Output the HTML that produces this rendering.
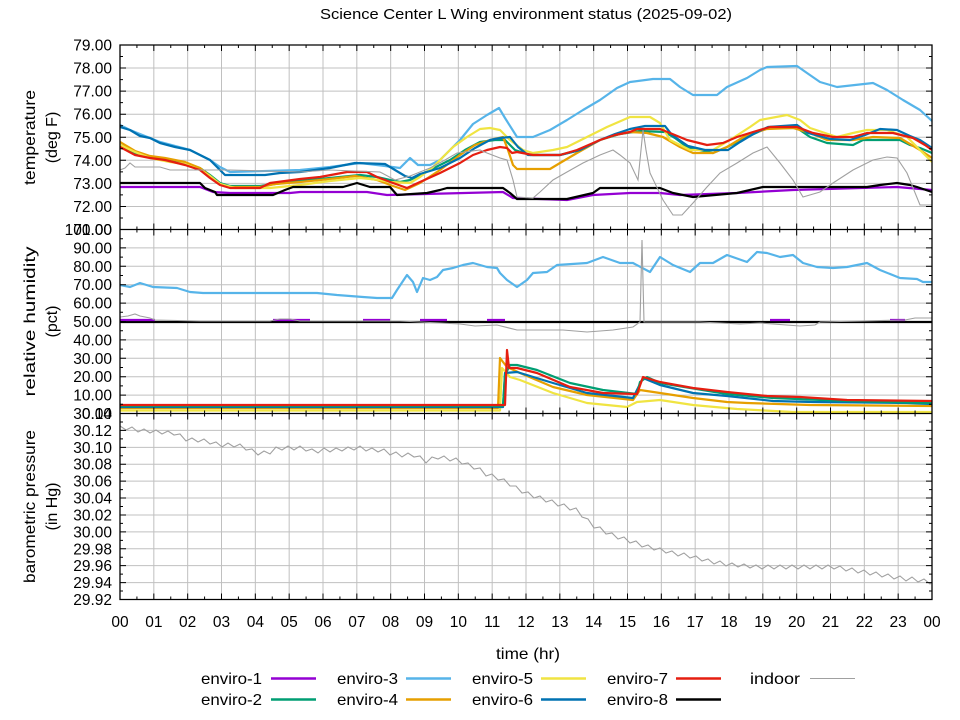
<!DOCTYPE html>
<html><head><meta charset="utf-8"><style>
html,body{margin:0;padding:0;background:#fff;}
svg{display:block;}
text{font-family:"Liberation Sans",sans-serif;fill:#000;}
.yl{font-size:15.5px;text-anchor:end;}
.xl{font-size:15.5px;text-anchor:middle;}
.s{fill:none;stroke-width:2.2;stroke-linejoin:round;}
</style></head><body>
<svg width="960" height="720" viewBox="0 0 960 720" xmlns="http://www.w3.org/2000/svg">
<rect width="960" height="720" fill="#fff"/>
<defs>
<clipPath id="c1"><rect x="120" y="45" width="812" height="184.5"/></clipPath>
<clipPath id="c2"><rect x="120" y="229.5" width="812" height="184"/></clipPath>
<clipPath id="c3"><rect x="120" y="413.5" width="812" height="186"/></clipPath>
<g id="xt"><path fill="none" stroke="#000" stroke-width="1" d="M120 0v6M136.92 0v3M153.83 0v6M170.75 0v3M187.67 0v6M204.58 0v3M221.5 0v6M238.42 0v3M255.33 0v6M272.25 0v3M289.17 0v6M306.08 0v3M323 0v6M339.92 0v3M356.83 0v6M373.75 0v3M390.67 0v6M407.58 0v3M424.5 0v6M441.42 0v3M458.33 0v6M475.25 0v3M492.17 0v6M509.08 0v3M526 0v6M542.92 0v3M559.83 0v6M576.75 0v3M593.67 0v6M610.58 0v3M627.5 0v6M644.42 0v3M661.33 0v6M678.25 0v3M695.17 0v6M712.08 0v3M729 0v6M745.92 0v3M762.83 0v6M779.75 0v3M796.67 0v6M813.58 0v3M830.5 0v6M847.42 0v3M864.33 0v6M881.25 0v3M898.17 0v6M915.08 0v3M932 0v6"/></g>
<g id="yt"><path fill="none" stroke="#000" stroke-width="1" d="M120 45h6M120 56.53h3M120 68.06h6M120 79.59h3M120 91.13h6M120 102.66h3M120 114.19h6M120 125.72h3M120 137.25h6M120 148.78h3M120 160.31h6M120 171.84h3M120 183.38h6M120 194.91h3M120 206.44h6M120 217.97h3M120 229.5h6M120 238.7h3M120 247.9h6M120 257.1h3M120 266.3h6M120 275.5h3M120 284.7h6M120 293.9h3M120 303.1h6M120 312.3h3M120 321.5h6M120 330.7h3M120 339.9h6M120 349.1h3M120 358.3h6M120 367.5h3M120 376.7h6M120 385.9h3M120 395.1h6M120 404.3h3M120 413.5h6M120 421.95h3M120 430.41h6M120 438.86h3M120 447.32h6M120 455.77h3M120 464.23h6M120 472.68h3M120 481.14h6M120 489.59h3M120 498.05h6M120 506.5h3M120 514.95h6M120 523.41h3M120 531.86h6M120 540.32h3M120 548.77h6M120 557.23h3M120 565.68h6M120 574.14h3M120 582.59h6M120 591.05h3M120 599.5h6"/></g>
</defs>

<!-- grid -->
<path fill="none" stroke="#c0c0c0" stroke-width="1" d="M153.83 45V599.5M187.67 45V599.5M221.5 45V599.5M255.33 45V599.5M289.17 45V599.5M323 45V599.5M356.83 45V599.5M390.67 45V599.5M424.5 45V599.5M458.33 45V599.5M492.17 45V599.5M526 45V599.5M559.83 45V599.5M593.67 45V599.5M627.5 45V599.5M661.33 45V599.5M695.17 45V599.5M729 45V599.5M762.83 45V599.5M796.67 45V599.5M830.5 45V599.5M864.33 45V599.5M898.17 45V599.5
M120 68.06H932M120 91.13H932M120 114.19H932M120 137.25H932M120 160.31H932M120 183.38H932M120 206.44H932
M120 247.9H932M120 266.3H932M120 284.7H932M120 303.1H932M120 321.5H932M120 339.9H932M120 358.3H932M120 376.7H932M120 395.1H932
M120 430.41H932M120 447.32H932M120 464.23H932M120 481.14H932M120 498.05H932M120 514.95H932M120 531.86H932M120 548.77H932M120 565.68H932M120 582.59H932"/>

<!-- top panel: temperature -->
<g clip-path="url(#c1)">
<polyline class="s" stroke="#9400d3" points="120,187 200,187 213,192 230,193 290,193 300,192 367,192 387,195 503,192 513,198 567,200 593,195 630,193 660,193 680,195 737,193 793,190 897,187 932,190"/>
<polyline class="s" stroke="#009e73" points="120,145 135,153 150,157 165,160 185,163 200,168 210,175 220,183 230,186 260,186 275,184 300,181 330,178 360,175 377,177 390,180 400,182 410,180 430,170 450,160 465,150 480,142 495,140 505,140 515,150 530,155 560,155 580,150 600,140 620,134 640,131 665,132 675,138 687,147 713,153 727,147 747,137 767,128 797,128 810,137 827,143 853,145 863,140 900,140 910,145 920,148 932,153"/>
<polyline class="s" stroke="#56b4e9" points="120,125 130,130 140,134 150,138 160,142 175,146 190,150 200,155 210,160 220,167 230,172 300,170 330,167 360,163 385,166 400,168 410,158 418,165 430,165 440,160 450,150 460,140 473,124 487,115 499,108 505,118 517,137 533,137 550,130 567,120 583,110 600,100 617,88 630,82 653,79 670,79 680,87 693,95 717,95 727,87 747,78 760,70 767,67 797,66 807,73 820,82 837,87 873,83 887,90 903,100 920,110 932,121"/>
<polyline class="s" stroke="#e69f00" points="120,142 135,151 150,156 165,158 185,162 200,168 210,176 220,184 230,187 260,187 275,184 300,182 330,179 355,176 377,180 393,186 405,190 420,183 440,170 460,155 475,145 490,140 503,137 508,150 513,165 517,169 550,169 560,163 577,153 600,140 615,135 630,132 647,133 663,137 680,147 693,153 713,153 727,147 747,135 767,129 793,128 810,133 827,140 853,140 873,137 900,138 920,150 932,158"/>
<polyline class="s" stroke="#f0e442" points="120,145 135,152 150,158 170,162 185,164 200,170 210,176 220,184 235,188 270,188 300,185 330,181 360,178 380,180 390,182 410,183 420,177 433,167 453,147 467,137 480,129 490,128 500,130 510,140 523,150 533,153 553,150 567,147 587,137 607,127 630,117 650,117 660,123 670,140 690,150 713,150 733,138 750,127 760,120 787,115 800,120 810,128 837,137 853,133 867,130 887,130 907,137 920,150 932,162"/>
<polyline class="s" stroke="#0072b2" points="120,127 130,130 140,136 150,138 160,143 175,147 190,150 200,155 210,160 220,170 225,175 265,175 280,173 300,172 330,168 355,163 385,164 395,170 405,176 412,178 420,174 440,168 460,158 475,148 490,140 500,138 510,137 518,147 528,155 560,155 580,150 600,140 615,134 630,129 645,126 665,126 672,135 688,146 705,150 728,150 740,142 755,133 768,127 797,125 808,133 830,139 850,140 865,135 880,129 897,130 910,136 920,140 932,148"/>
<polyline class="s" stroke="#e51e10" points="120,147 135,155 150,158 165,160 185,165 200,170 210,178 220,185 230,188 260,188 270,183 300,179 320,177 347,172 367,172 377,177 393,183 407,188 420,182 440,173 460,163 473,155 487,150 500,147 507,148 512,153 517,152 533,155 560,155 577,150 600,140 615,135 630,132 637,129 660,129 670,133 687,140 707,145 723,143 737,137 753,132 770,127 797,127 813,133 833,137 853,137 867,133 893,133 913,138 925,145 932,150"/>
<polyline class="s" stroke="#000" points="120,183 200,183 205,188 215,192 217,195 273,195 285,190 293,187 343,187 357,183 370,187 390,187 397,195 427,193 440,190 447,188 503,188 510,193 517,199 567,199 593,193 600,188 660,188 673,193 693,197 737,193 763,187 867,187 880,185 897,183 910,185 917,187 932,192"/>
<polyline fill="none" stroke="#a0a0a0" stroke-width="1.1" points="120,170 125,168 130,163 135,167 160,167 170,170 230,170 300,172 330,170 380,172 395,180 410,176 430,168 445,160 457,153 480,150 487,153 500,158 507,160 513,180 517,197 533,198 540,192 553,180 567,172 583,163 600,155 613,150 620,155 630,163 638,180 641,150 643,130 646,150 650,173 663,200 673,215 682,215 693,203 707,187 720,173 737,163 753,153 767,147 780,163 793,180 803,197 820,192 833,183 853,170 873,160 887,157 897,158 907,173 920,205 932,205"/>
</g>

<!-- middle panel: humidity -->
<g clip-path="url(#c2)">
<polyline class="s" stroke="#000" points="120,322 932,322"/>
<path class="s" stroke="#9400d3" d="M120 320H155M273 320H310M363 320H390M420 320H447M487 320H505M770 320H790M890 320H905"/>
<polyline class="s" stroke="#56b4e9" points="120,285 130,287 140,283 153,287 177,288 190,292 203,293 317,293 337,295 363,297 377,298 392,298 397,290 407,275 413,282 417,292 423,278 430,280 437,277 443,270 453,268 463,265 473,263 487,267 497,268 500,273 507,280 517,287 527,280 533,273 547,272 557,265 587,263 603,257 620,263 633,263 650,272 660,257 673,265 690,272 700,263 713,263 727,255 747,262 757,252 767,253 780,257 793,255 803,263 817,267 833,268 847,267 867,263 880,270 900,278 917,279 923,282 932,282"/>
<polyline class="s" stroke="#f0e442" points="120,410.5 500,410.5 502,368 510,377 520,380 553,393 587,403 627,407 637,402 660,400 693,405 737,409 793,412 932,412"/>
<polyline class="s" stroke="#e69f00" points="120,408 498,408 500,358 503,362 507,367 520,373 553,387 587,395 633,400 640,390 660,393 693,398 727,402 747,403 810,405 932,406"/>
<polyline class="s" stroke="#0072b2" points="120,407 503,407 505,373 517,372 553,383 587,393 633,398 643,378 660,385 693,393 727,396 773,401 813,402 907,403 932,404"/>
<polyline class="s" stroke="#009e73" points="120,406 503,406 505,375 510,365 517,365 537,370 570,383 603,390 637,394 640,382 647,377 660,383 727,394 773,398 847,401 932,403"/>
<polyline class="s" stroke="#e51e10" points="120,405 505,405 507,350 509,368 517,368 537,373 570,387 603,393 637,394 643,377 660,382 693,388 727,392 767,396 800,397 847,400 932,401"/>
<polyline fill="none" stroke="#a0a0a0" stroke-width="1.1" points="120,317 128,316 135,314 140,316 150,318 155,320 200,321 270,321 280,319 290,319 300,321 400,321 420,322 440,323 460,324 475,326 497,325 517,330 563,330 587,332 613,330 633,327 640,322 642,240 644,322 660,322 700,322 740,324 760,323 800,326 815,325 820,322 905,320 915,318 932,318"/>
</g>

<!-- bottom panel: pressure -->
<g clip-path="url(#c3)">
<polyline fill="none" stroke="#a0a0a0" stroke-width="1.1" points="120,426 126,430 132,427 138,432 144,429 150,433 156,430 162,434 168,431 174,435 180,434 186,441 192,438 198,442 204,439 210,444 216,442 222,447 228,443 234,447 240,444 246,450 252,449 258,455 264,451 270,454 276,447 282,450 288,446 294,450 300,446 306,451 312,449 318,453 324,448 330,452 336,448 342,451 348,447 354,450 360,446 366,451 372,448 378,452 384,449 390,455 396,452 402,457 408,453 414,457 420,456 426,463 432,457 438,459 444,456 450,461 456,458 462,464 468,463 474,469 480,468 486,476 492,474 498,480 504,479 510,486 516,486 522,493 528,492 534,498 540,496 546,502 552,500 558,506 564,504 570,510 576,508 582,517 588,519 594,528 600,527 606,534 612,533 618,539 624,537 630,543 636,541 642,547 648,545 654,550 660,548 666,553 672,551 678,556 684,553 690,558 696,556 702,561 708,559 714,564 720,561 726,566 732,563 738,567 744,564 750,568 756,565 762,569 768,565 774,569 780,565 786,569 792,565 798,569 804,565 810,569 816,565 822,569 828,565 834,569 840,566 846,571 852,568 858,573 864,570 870,575 876,572 882,577 888,574 894,579 900,576 906,581 912,577 918,582 924,579 930,584 932,582"/>
</g>

<!-- ticks -->
<use href="#xt" transform="translate(0,45)"/>
<use href="#xt" transform="translate(0,229.5) scale(1,-1)"/>
<use href="#xt" transform="translate(0,229.5)"/>
<use href="#xt" transform="translate(0,413.5) scale(1,-1)"/>
<use href="#xt" transform="translate(0,413.5)"/>
<use href="#xt" transform="translate(0,599.5) scale(1,-1)"/>
<use href="#yt"/>
<use href="#yt" transform="translate(1052,0) scale(-1,1)"/>

<!-- frames -->
<path fill="none" stroke="#000" stroke-width="1.3" d="M120 45H932V599.5H120ZM120 229.5H932M120 413.5H932"/>

<!-- title -->
<text x="526" y="19" font-size="15" text-anchor="middle" textLength="412" lengthAdjust="spacingAndGlyphs">Science Center L Wing environment status (2025-09-02)</text>

<!-- y labels -->
<text class="yl" x="112" y="50.5">79.00</text>
<text class="yl" x="112" y="73.6">78.00</text>
<text class="yl" x="112" y="96.6">77.00</text>
<text class="yl" x="112" y="119.7">76.00</text>
<text class="yl" x="112" y="142.8">75.00</text>
<text class="yl" x="112" y="165.8">74.00</text>
<text class="yl" x="112" y="188.9">73.00</text>
<text class="yl" x="112" y="211.9">72.00</text>
<text class="yl" x="112" y="235">71.00</text>
<text class="yl" x="112" y="235">100.00</text>
<text class="yl" x="112" y="253.4">90.00</text>
<text class="yl" x="112" y="271.8">80.00</text>
<text class="yl" x="112" y="290.2">70.00</text>
<text class="yl" x="112" y="308.6">60.00</text>
<text class="yl" x="112" y="327">50.00</text>
<text class="yl" x="112" y="345.4">40.00</text>
<text class="yl" x="112" y="363.8">30.00</text>
<text class="yl" x="112" y="382.2">20.00</text>
<text class="yl" x="112" y="400.6">10.00</text>
<text class="yl" x="112" y="419">0.00</text>
<text class="yl" x="112" y="419">30.14</text>
<text class="yl" x="112" y="435.9">30.12</text>
<text class="yl" x="112" y="452.8">30.10</text>
<text class="yl" x="112" y="469.7">30.08</text>
<text class="yl" x="112" y="486.6">30.06</text>
<text class="yl" x="112" y="503.5">30.04</text>
<text class="yl" x="112" y="520.4">30.02</text>
<text class="yl" x="112" y="537.3">30.00</text>
<text class="yl" x="112" y="554.3">29.98</text>
<text class="yl" x="112" y="571.2">29.96</text>
<text class="yl" x="112" y="588.1">29.94</text>
<text class="yl" x="112" y="605">29.92</text>

<!-- x labels -->
<g class="xl">
<text class="xl" x="120" y="627">00</text>
<text class="xl" x="153.83" y="627">01</text>
<text class="xl" x="187.67" y="627">02</text>
<text class="xl" x="221.5" y="627">03</text>
<text class="xl" x="255.33" y="627">04</text>
<text class="xl" x="289.17" y="627">05</text>
<text class="xl" x="323" y="627">06</text>
<text class="xl" x="356.83" y="627">07</text>
<text class="xl" x="390.67" y="627">08</text>
<text class="xl" x="424.5" y="627">09</text>
<text class="xl" x="458.33" y="627">10</text>
<text class="xl" x="492.17" y="627">11</text>
<text class="xl" x="526" y="627">12</text>
<text class="xl" x="559.83" y="627">13</text>
<text class="xl" x="593.67" y="627">14</text>
<text class="xl" x="627.5" y="627">15</text>
<text class="xl" x="661.33" y="627">16</text>
<text class="xl" x="695.17" y="627">17</text>
<text class="xl" x="729" y="627">18</text>
<text class="xl" x="762.83" y="627">19</text>
<text class="xl" x="796.67" y="627">20</text>
<text class="xl" x="830.5" y="627">21</text>
<text class="xl" x="864.33" y="627">22</text>
<text class="xl" x="898.17" y="627">23</text>
<text class="xl" x="932" y="627">00</text>
</g>

<!-- axis titles -->
<text x="528" y="659" font-size="16" text-anchor="middle" textLength="64" lengthAdjust="spacingAndGlyphs">time (hr)</text>
<g font-size="16" text-anchor="middle">
<text transform="translate(35,137.5) rotate(-90)" textLength="95" lengthAdjust="spacingAndGlyphs">temperature</text>
<text transform="translate(57,137.5) rotate(-90)">(deg F)</text>
<text transform="translate(35,321.5) rotate(-90)" textLength="150" lengthAdjust="spacingAndGlyphs">relative humidity</text>
<text transform="translate(57,321.5) rotate(-90)">(pct)</text>
<text transform="translate(35,506.5) rotate(-90)" textLength="153" lengthAdjust="spacingAndGlyphs">barometric pressure</text>
<text transform="translate(57,506.5) rotate(-90)">(in Hg)</text>
</g>

<!-- legend -->
<g font-size="16" text-anchor="end">
<text x="262" y="684" textLength="61" lengthAdjust="spacingAndGlyphs">enviro-1</text>
<text x="262" y="705" textLength="61" lengthAdjust="spacingAndGlyphs">enviro-2</text>
<text x="398" y="684" textLength="61" lengthAdjust="spacingAndGlyphs">enviro-3</text>
<text x="398" y="705" textLength="61" lengthAdjust="spacingAndGlyphs">enviro-4</text>
<text x="533" y="684" textLength="61" lengthAdjust="spacingAndGlyphs">enviro-5</text>
<text x="533" y="705" textLength="61" lengthAdjust="spacingAndGlyphs">enviro-6</text>
<text x="668" y="684" textLength="61" lengthAdjust="spacingAndGlyphs">enviro-7</text>
<text x="668" y="705" textLength="61" lengthAdjust="spacingAndGlyphs">enviro-8</text>
<text x="800" y="684" textLength="50" lengthAdjust="spacingAndGlyphs">indoor</text>
</g>
<g stroke-width="2.5">
<line x1="271" y1="678.5" x2="316" y2="678.5" stroke="#9400d3"/>
<line x1="271" y1="699.5" x2="316" y2="699.5" stroke="#009e73"/>
<line x1="406" y1="678.5" x2="451" y2="678.5" stroke="#56b4e9"/>
<line x1="406" y1="699.5" x2="451" y2="699.5" stroke="#e69f00"/>
<line x1="541" y1="678.5" x2="586" y2="678.5" stroke="#f0e442"/>
<line x1="541" y1="699.5" x2="586" y2="699.5" stroke="#0072b2"/>
<line x1="676" y1="678.5" x2="721" y2="678.5" stroke="#e51e10"/>
<line x1="676" y1="699.5" x2="721" y2="699.5" stroke="#000"/>
</g>
<line x1="810" y1="678.5" x2="855" y2="678.5" stroke="#a0a0a0" stroke-width="1.1"/>
</svg>
</body></html>
